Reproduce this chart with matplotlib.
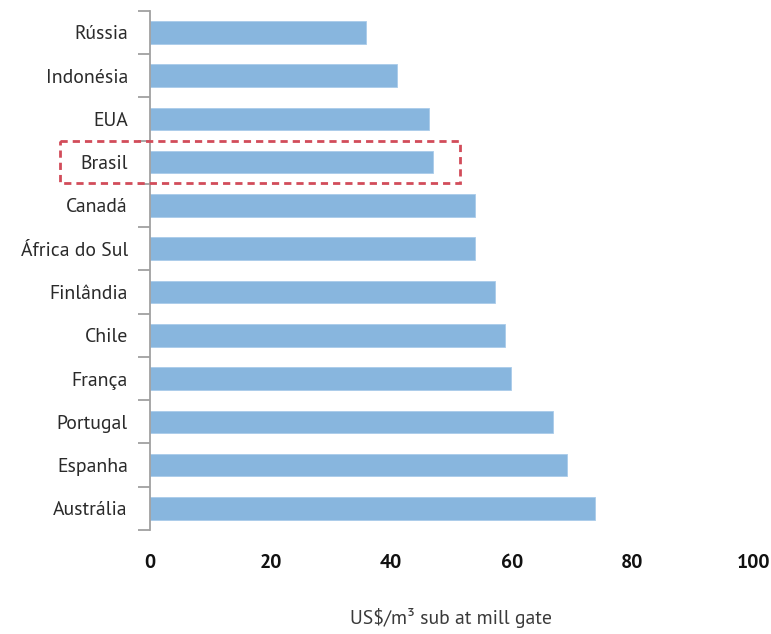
import matplotlib
matplotlib.use("Agg")
import matplotlib.pyplot as plt
from matplotlib.patches import Rectangle
from matplotlib.transforms import blended_transform_factory
from matplotlib import font_manager

countries = ["Rússia", "Indonésia", "EUA", "Brasil", "Canadá", "África do Sul",
             "Finlândia", "Chile", "França", "Portugal", "Espanha", "Austrália"]
costs = [35.9, 40.9, 46.3, 47.0, 53.9, 53.9, 57.2, 58.9, 59.9, 66.9, 69.2, 73.8]
x_ticks = [0, 20, 40, 60, 80, 100]
highlight = "Brasil"
x_label = "US$/m³ sub at mill gate"

# pick a Myriad-like humanist sans if one is installed
names = {f.name for f in font_manager.fontManager.ttflist}
preferred = ["PT Sans", "Source Sans Pro", "Fira Sans Condensed", "Open Sans", "DejaVu Sans"]
family = next(f for f in preferred if f in names or f == "DejaVu Sans")
plt.rcParams["font.family"] = [family, "DejaVu Sans"]

W, H = 771, 634
fig = plt.figure(figsize=(W / 100, H / 100), dpi=100)
left, right, top, bottom = 150, 753, 10.7, 530
ax = fig.add_axes([left / W, 1 - bottom / H, (right - left) / W, (bottom - top) / H])

ypos = list(range(len(countries)))
ax.barh(ypos, costs, height=0.52, color="#88b6de", edgecolor="#a9cbea", linewidth=0.6)

ax.set_xlim(0, 100)
ax.set_ylim(len(countries) - 0.5, -0.5)

for s in ["top", "right", "bottom"]:
    ax.spines[s].set_visible(False)
ax.spines["left"].set_color("#a0a0a0")
ax.spines["left"].set_linewidth(1.3)

ax.set_yticks(ypos)
ax.set_yticklabels(countries, fontsize=14.2, color="#2a2a2a")
ax.tick_params(axis="y", which="major", length=0, pad=16)
ax.set_yticks([i - 0.5 for i in range(len(countries) + 1)], minor=True)
ax.tick_params(axis="y", which="minor", length=9, width=1.3, color="#a0a0a0")

ax.set_xticks(x_ticks)
ax.set_xticklabels([str(v) for v in x_ticks], fontsize=14.2, fontweight="bold", color="#111111")
ax.tick_params(axis="x", length=0, pad=17)
ax.set_xlabel(x_label, fontsize=14.2, color="#3a3a3a", labelpad=26)

# dashed frame around the highlighted country
hi = countries.index(highlight)
trans = blended_transform_factory(ax.transAxes, ax.transData)
x0 = (60 - left) / (right - left)
x1 = (460 - left) / (right - left)
ax.add_patch(Rectangle((x0, hi - 0.49), x1 - x0, 0.98, transform=trans,
                       fill=False, edgecolor="#d24c5a", linewidth=2,
                       linestyle=(0, (2.6, 1.8)), clip_on=False, zorder=5))

fig.savefig("out.png", dpi=100)
